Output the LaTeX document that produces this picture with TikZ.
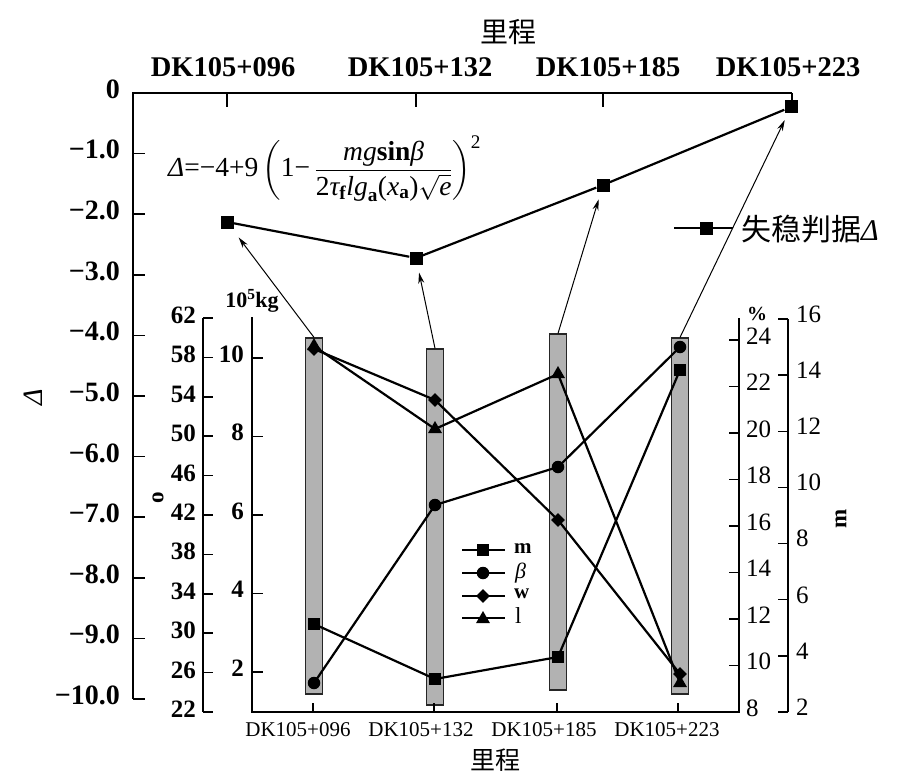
\documentclass[tikz,border=0pt]{standalone}
\usepackage{fontspec}
\usepackage{amsmath}
\setmainfont{Liberation Serif}
\newfontfamily\cjk{Noto Sans CJK SC}
\usetikzlibrary{arrows.meta,shapes.geometric}
\begin{document}
\begin{tikzpicture}[x=1pt,y=-1pt,
  axis/.style={line width=1.8pt},
  tk/.style={line width=1.5pt},
  ser/.style={line width=2.2pt},
  arr/.style={line width=1pt,-{Stealth[length=11pt,width=6pt]},shorten >=8pt},
  bar/.style={draw=black!85,line width=1.2pt,fill=black!30,inner sep=0pt,minimum width=17pt,minimum height=356pt},
  sq/.style={fill=black,rectangle,inner sep=0pt,minimum size=12pt},
  ci/.style={fill=black,circle,inner sep=0pt,minimum size=12.5pt},
  di/.style={fill=black,diamond,inner sep=0pt,minimum size=14pt},
  tri/.style={fill=black,regular polygon,regular polygon sides=3,inner sep=0pt,minimum size=16pt},
  bigb/.style={font=\bfseries\fontsize{28.5}{28.5}\selectfont,text height=0.68em,text depth=0pt,inner sep=0pt},
  numb/.style={font=\bfseries\fontsize{28}{28}\selectfont,text height=0.68em,text depth=0pt,inner sep=0pt},
  midb/.style={font=\bfseries\fontsize{25}{25}\selectfont,text height=0.68em,text depth=0pt,inner sep=0pt},
  midr/.style={font=\fontsize{25}{25}\selectfont,text height=0.68em,text depth=0pt,inner sep=0pt},
  botr/.style={font=\fontsize{21}{21}\selectfont,text height=0.68em,text depth=0pt,inner sep=0pt},
  lgl/.style={anchor=west,inner sep=0pt}
]
\useasboundingbox (0,0) rectangle (901,778);

% ---------------- upper plot axes ----------------
\draw[axis] (792,93) -- (133,93) -- (133,699);
\foreach \v in {1,...,10} \draw[tk] (133,{93+60.6*\v}) -- ++(12,0);
\foreach \v/\t in {0/0,1/−1.0,2/−2.0,3/−3.0,4/−4.0,5/−5.0,6/−6.0,7/−7.0,8/−8.0,9/−9.0,10/−10.0}
  \node[numb,anchor=east] (ul\v) at (120,{95+60.6*\v}) {\t};
\foreach \x in {227,416,603} \draw[tk] (\x,93) -- (\x,107);
\draw[tk] (792,93) -- (792,101);
\node[bigb] (ut1) at (223,73) {DK105+096};
\node[bigb] (ut2) at (420,73) {DK105+132};
\node[bigb] (ut3) at (608,73) {DK105+185};
\node[bigb] (ut4) at (788,73) {DK105+223};
\node[font=\cjk\fontsize{28}{28}\selectfont] (utitle) at (508,32) {里程};
\node[font=\itshape\fontsize{28}{28}\selectfont,rotate=90] (ylab) at (33,397) {Δ};

% formula
\node[anchor=west,inner sep=0pt,font=\fontsize{27.5}{27.5}\selectfont] (form) at (168,169)
 {$\displaystyle\text{\itshape Δ}\text{=−4+9}\left(\text{1−\,}\frac{\text{\itshape mg}\text{\bfseries sin}\text{\itshape β}}{\text{2}\text{\itshape τ}_{\text{\bfseries f}}\text{\itshape lg}_{\text{\bfseries a}}\text{(}\text{\itshape x}_{\text{\bfseries a}}\text{)}\sqrt{\text{\itshape e}}}\right)^{\text{2}}$};

% Delta series
\node[sq,minimum size=13pt] (d1) at (227,222) {};
\node[sq,minimum size=13pt] (d2) at (416,258) {};
\node[sq,minimum size=13pt] (d3) at (603,185) {};
\node[sq,minimum size=13pt] (d4) at (791,107) {};
\draw[ser] (d1) -- (d2) -- (d3) -- (d4);

% Delta legend
\coordinate (lgA) at (674,228);
\coordinate (lgB) at (733,228);
\draw[line width=2pt] (lgA) -- (lgB);
\node[sq,minimum size=13pt] (lgS) at (706,228) {};
\node[anchor=west,inner sep=0pt,font=\fontsize{30}{30}\selectfont] (lgT) at (741,229) {{\cjk 失稳判据}\textit{Δ}};

% ---------------- lower plot ----------------
% bars
\node[bar] (b1) at (314,516) {};
\node[bar] (b2) at (435,527) {};
\node[bar] (b3) at (558,512) {};
\node[bar] (b4) at (680,516) {};

% axis o
\draw[axis] (203,318) -- (203,712);
\foreach \i in {0,...,10} {
  \draw[tk] (203,{318+39.4*\i}) -- ++(10,0);
  \pgfmathtruncatemacro\lv{62-4*\i}
  \node[midb,anchor=east] (ol\i) at (196,{320+39.4*\i}) {\lv};
}
\node[font=\bfseries\fontsize{23}{23}\selectfont,rotate=90,inner sep=0pt] (olab) at (158,498) {o};

% axis 10^5 kg and frame
\draw[axis] (252,317) -- (252,712) -- (739,712) -- (739,318);
\foreach \v in {2,4,6,8,10} {
  \draw[tk] (252,{672-(\v-2)*39.25}) -- ++(11,0);
  \node[midb,anchor=east] (kl\v) at (244,{673-(\v-2)*39.25}) {\v};
}
\node[font=\bfseries\fontsize{22}{22}\selectfont,inner sep=0pt] (klab) at (252,301) {10\textsuperscript{5}kg};

% bottom ticks and labels
\foreach \x in {313,434,557,678} \draw[tk] (\x,712) -- (\x,703);
\node[botr] (bl1) at (298,733) {DK105+096};
\node[botr] (bl2) at (421,733) {DK105+132};
\node[botr] (bl3) at (544,733) {DK105+185};
\node[botr] (bl4) at (667,733) {DK105+223};
\node[font=\cjk\fontsize{25}{25}\selectfont] (btitle) at (495,760) {里程};

% axis %
\foreach \v in {10,12,...,24} {
  \draw[tk] (739,{712-(\v-8)*23.25}) -- ++(-10,0);
}
\foreach \v in {8,10,...,24}
  \node[midr,anchor=west] (pl\v) at (746,{713-(\v-8)*23.25}) {\v};
\node[font=\bfseries\fontsize{20}{20}\selectfont,inner sep=0pt,anchor=south west] (plab) at (747,321) {\%};

% axis m
\draw[axis] (788,319) -- (788,712);
\foreach \v in {2,4,...,16} {
  \draw[tk] (788,{712-(\v-2)*28.07}) -- ++(-10,0);
  \node[midr,anchor=west] (ml\v) at (796,{712-(\v-2)*28.07}) {\v};
}
\node[font=\bfseries\fontsize{23}{23}\selectfont,rotate=90,inner sep=0pt] (mlab) at (841,519) {m};

% markers
\node[sq] (m1) at (314,624) {};
\node[sq] (m2) at (435,679) {};
\node[sq] (m3) at (558,657) {};
\node[sq] (m4) at (680,370) {};
\node[ci] (c1) at (314,683) {};
\node[ci] (c2) at (435,505) {};
\node[ci] (c3) at (558,467) {};
\node[ci] (c4) at (680,347) {};
\node[tri] (t1) at (314,346) {};
\node[tri] (t2) at (435,429) {};
\node[tri] (t3) at (558,374) {};
\node[tri] (t4) at (680,683) {};
\node[di] (w1) at (314,349) {};
\node[di] (w2) at (435,400) {};
\node[di] (w3) at (558,520) {};
\node[di] (w4) at (680,674) {};

\draw[ser] (m1.center) -- (m2.center) -- (m3.center) -- (m4.center);
\draw[ser] (c1.center) -- (c2.center) -- (c3.center) -- (c4.center);
\draw[ser] (w1.center) -- (w2.center) -- (w3.center) -- (w4.center);
\draw[ser] (t1.center) -- (t2.center) -- (t3.center) -- (t4.center);

% arrows
\draw[arr,shorten >=11pt] (b1.north) -- (d1);
\draw[arr] (b2.north) -- (d2);
\draw[arr] (b3.north) -- (d3);
\draw[arr,shorten >=7pt] (b4.north) -- (d4);

% lower legend
\foreach \y/\n in {550/1,573/2,596/3,618/4} {
  \coordinate (la\n) at (462,\y);
  \coordinate (lb\n) at (505,\y);
  \draw[line width=2pt] (la\n) -- (lb\n);
}
\node[sq] (ls1) at (483,550) {};
\node[ci] (ls2) at (483,573) {};
\node[di] (ls3) at (483,596) {};
\node[tri] (ls4) at (483,619) {};
\node[lgl,font=\bfseries\fontsize{21}{21}\selectfont] (lt1) at (514,549) {m};
\node[lgl,font=\itshape\fontsize{22}{22}\selectfont] (lt2) at (515,573) {β};
\node[lgl,font=\bfseries\fontsize{21}{21}\selectfont] (lt3) at (514,594) {w};
\node[lgl,font=\fontsize{23}{23}\selectfont] (lt4) at (515,616) {l};
\end{tikzpicture}
\end{document}
